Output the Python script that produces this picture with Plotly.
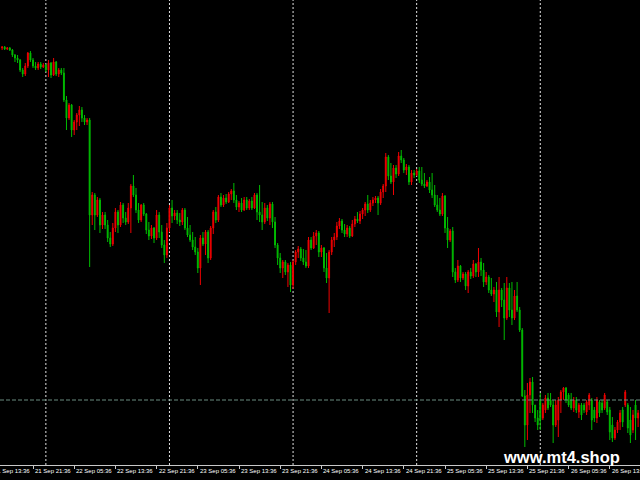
import plotly.graph_objects as go

# ---- data (M30 bars, price in chart points) ----
bar_open = [452, 453, 451, 452, 450, 445, 442, 440, 430, 426, 434, 447, 440, 434, 432, 436, 433, 435, 430, 437,
            425, 438, 426, 430, 427, 400, 382, 395, 370, 378, 385, 390, 382, 378, 380, 285, 305, 285, 300, 275,
            285, 275, 262, 256, 272, 288, 275, 295, 282, 278, 292, 314, 305, 290, 280, 295, 286, 270, 264, 272,
            262, 285, 268, 255, 245, 272, 292, 284, 287, 280, 278, 290, 272, 265, 260, 253, 248, 232, 262, 256,
            268, 242, 272, 288, 280, 303, 295, 302, 298, 306, 309, 300, 293, 297, 290, 300, 292, 299, 292, 305,
            288, 285, 278, 292, 282, 296, 278, 255, 242, 232, 238, 228, 235, 215, 238, 248, 251, 242, 238, 234,
            260, 252, 264, 267, 248, 252, 232, 222, 248, 260, 263, 274, 279, 270, 266, 272, 264, 276, 281, 279,
            286, 290, 296, 290, 297, 300, 302, 297, 308, 314, 343, 324, 318, 332, 326, 344, 340, 330, 333, 318,
            327, 325, 329, 320, 316, 314, 318, 310, 305, 295, 290, 286, 304, 272, 260, 269, 228, 220, 234, 222,
            226, 214, 228, 224, 236, 228, 238, 230, 218, 223, 210, 206, 210, 188, 210, 200, 182, 212, 190, 182,
            204, 190, 170, 104, 75, 105, 118, 95, 82, 100, 82, 90, 102, 100, 95, 75, 80, 100, 108, 112,
            105, 100, 92, 100, 88, 95, 95, 88, 95, 100, 90, 82, 98, 97, 92, 98, 90, 75, 62, 70,
            78, 90, 95, 95, 80, 70, 95, 82]
bar_close = [453, 451, 452, 450, 445, 442, 440, 430, 426, 434, 447, 440, 434, 432, 436, 433, 435, 430, 437, 425,
             438, 426, 430, 427, 400, 382, 395, 370, 378, 385, 390, 382, 378, 380, 285, 305, 285, 300, 275, 285,
             275, 262, 256, 272, 288, 275, 295, 282, 278, 292, 314, 305, 290, 280, 295, 286, 270, 264, 272, 262,
             285, 268, 255, 245, 272, 292, 284, 287, 280, 278, 290, 272, 265, 260, 253, 248, 232, 262, 256, 268,
             242, 272, 288, 280, 303, 295, 302, 298, 306, 309, 300, 293, 297, 290, 300, 292, 299, 292, 305, 288,
             285, 278, 292, 282, 296, 278, 255, 242, 232, 238, 228, 235, 215, 238, 248, 251, 242, 238, 234, 260,
             252, 264, 267, 248, 252, 232, 222, 248, 260, 263, 274, 279, 270, 266, 272, 264, 276, 281, 279, 286,
             290, 296, 290, 297, 300, 302, 297, 308, 314, 343, 324, 318, 332, 326, 344, 340, 330, 333, 318, 327,
             325, 329, 320, 316, 314, 318, 310, 305, 295, 290, 286, 304, 272, 260, 269, 228, 220, 234, 222, 226,
             214, 228, 224, 236, 228, 238, 230, 218, 223, 210, 206, 210, 188, 210, 200, 182, 212, 190, 182, 204,
             190, 170, 104, 75, 105, 118, 95, 82, 75, 80, 95, 102, 92, 95, 75, 95, 100, 108, 112, 100,
             95, 92, 100, 90, 95, 85, 90, 98, 105, 80, 82, 100, 87, 90, 105, 88, 68, 62, 70, 78,
             87, 78, 108, 72, 65, 85, 82, 87]
bar_high = [454, 454, 453, 453, 451, 446, 445, 441, 432, 437, 448, 449, 442, 438, 438, 438, 437, 436, 440, 438,
            442, 439, 432, 432, 432, 404, 397, 396, 380, 387, 394, 393, 385, 382, 382, 308, 307, 303, 302, 288,
            288, 280, 268, 277, 292, 290, 298, 297, 288, 297, 316, 325, 312, 297, 296, 297, 287, 278, 275, 273,
            290, 288, 275, 260, 277, 295, 300, 290, 290, 287, 292, 292, 283, 275, 268, 263, 252, 265, 268, 270,
            270, 274, 290, 293, 305, 307, 305, 306, 308, 311, 317, 305, 299, 302, 303, 303, 301, 303, 307, 307,
            315, 298, 297, 295, 298, 298, 283, 257, 247, 240, 240, 237, 238, 240, 250, 254, 253, 251, 250, 263,
            263, 268, 270, 269, 255, 253, 247, 250, 263, 267, 278, 282, 281, 276, 275, 274, 280, 284, 288, 289,
            292, 298, 305, 300, 303, 304, 304, 311, 316, 347, 345, 337, 335, 335, 348, 350, 342, 336, 335, 330,
            330, 331, 333, 333, 327, 320, 323, 327, 315, 305, 302, 307, 305, 283, 271, 273, 232, 240, 235, 228,
            228, 230, 232, 240, 237, 252, 242, 237, 228, 225, 222, 213, 218, 223, 212, 217, 223, 217, 218, 210,
            218, 193, 172, 110, 117, 122, 123, 95, 90, 107, 97, 105, 107, 107, 100, 100, 103, 110, 113, 113,
            107, 107, 103, 103, 97, 97, 97, 100, 107, 102, 93, 103, 100, 100, 107, 100, 93, 83, 73, 80,
            90, 93, 110, 97, 93, 90, 100, 90]
bar_low = [450, 450, 450, 449, 443, 438, 437, 428, 423, 424, 432, 438, 432, 430, 430, 431, 432, 428, 423, 422,
           424, 424, 423, 425, 398, 370, 380, 363, 365, 370, 374, 378, 375, 375, 233, 275, 270, 283, 267, 271,
           271, 258, 253, 254, 268, 267, 273, 277, 275, 276, 267, 303, 287, 277, 278, 284, 266, 260, 261, 257,
           260, 262, 252, 237, 242, 268, 277, 280, 276, 274, 275, 270, 263, 258, 250, 245, 227, 215, 254, 245,
           237, 240, 266, 277, 278, 293, 293, 296, 297, 300, 297, 290, 288, 288, 289, 290, 290, 290, 291, 280,
           278, 270, 276, 279, 275, 272, 252, 235, 227, 222, 225, 213, 208, 211, 235, 242, 239, 235, 232, 232,
           250, 251, 255, 243, 243, 228, 217, 187, 245, 253, 260, 271, 267, 263, 263, 262, 263, 273, 277, 276,
           281, 284, 287, 288, 294, 297, 285, 295, 302, 308, 320, 316, 305, 322, 324, 337, 327, 325, 315, 315,
           322, 324, 317, 314, 312, 313, 307, 302, 293, 288, 284, 284, 267, 252, 258, 223, 217, 218, 218, 220,
           210, 207, 221, 222, 223, 223, 224, 213, 215, 207, 204, 198, 183, 173, 193, 160, 180, 183, 175, 180,
           188, 168, 103, 53, 60, 87, 87, 78, 70, 70, 80, 87, 90, 93, 57, 73, 63, 87, 100, 97,
           93, 90, 88, 87, 82, 80, 87, 85, 90, 70, 78, 77, 83, 87, 90, 85, 60, 58, 60, 67,
           70, 73, 93, 67, 57, 67, 60, 73]

tick_bars = [-4, 12, 28, 44, 60, 76, 92, 108, 124, 140, 156, 172, 188, 204, 220, 236]
tick_labels = ["21 Sep 13:36", "21 Sep 21:36", "22 Sep 05:36", "22 Sep 13:36", "22 Sep 21:36",
               "23 Sep 05:36", "23 Sep 13:36", "23 Sep 21:36", "24 Sep 05:36", "24 Sep 13:36",
               "24 Sep 21:36", "25 Sep 05:36", "25 Sep 13:36", "25 Sep 21:36", "26 Sep 05:36",
               "26 Sep 13:36"]
day_start_bars = [17, 65, 113, 161, 209]
level_price = 100
watermark = "www.mt4.shop"

# ---- view ----
x_lo, x_hi = -0.8155, 247.73
y_lo, y_hi = 35, 500

bars = list(range(len(bar_close)))

fig = go.Figure()
fig.add_trace(go.Candlestick(
    x=bars, open=bar_open, high=bar_high, low=bar_low, close=bar_close,
    increasing=dict(line=dict(color="#f00000", width=1), fillcolor="#f00000"),
    decreasing=dict(line=dict(color="#00bb00", width=1), fillcolor="#00bb00"),
    whiskerwidth=0, showlegend=False, hoverinfo="skip",
))

for b in day_start_bars:
    fig.add_shape(type="line", xref="x", yref="paper", x0=b, x1=b, y0=0, y1=1,
                  line=dict(color="#e0e0e0", width=1, dash="2px,2px"), layer="below")

fig.add_shape(type="line", xref="paper", yref="y", x0=0, x1=1, y0=level_price, y1=level_price,
              line=dict(color="#6a8c80", width=1, dash="4px,2px"), layer="above")

span = x_hi - x_lo
for b, t in zip(tick_bars, tick_labels):
    fig.add_annotation(text=t, xref="paper", yref="paper", x=(b - x_lo) / span, y=0,
                       xanchor="left", yanchor="top", xshift=0, yshift=-1, showarrow=False,
                       font=dict(family="Liberation Sans", size=6, color="#ffffff"))

fig.add_annotation(text="<b>" + watermark + "</b>", xref="paper", yref="paper",
                   x=561.5 / 640, y=(465 - 456.5) / 465, xanchor="center", yanchor="middle",
                   showarrow=False, font=dict(family="Liberation Sans", size=16.5, color="#ffffff"))

fig.update_layout(
    width=640, height=480,
    margin=dict(l=0, r=0, t=0, b=15, pad=0),
    paper_bgcolor="#000000", plot_bgcolor="#000000",
    boxgap=0.5,
    xaxis=dict(range=[x_lo, x_hi], rangeslider=dict(visible=False), showgrid=False, zeroline=False,
               tickmode="array", tickvals=tick_bars, showticklabels=False,
               ticks="outside", ticklen=3, tickcolor="#c8c8c8", showline=True,
               linecolor="#c8c8c8", linewidth=1, fixedrange=True),
    yaxis=dict(range=[y_lo, y_hi], showgrid=False, zeroline=False, showticklabels=False,
               ticks="", showline=False, fixedrange=True),
    hovermode=False,
)

fig.write_html("out.html", config={"displayModeBar": False},
               post_script="document.body.style.margin='0';document.body.style.overflow='hidden';")
